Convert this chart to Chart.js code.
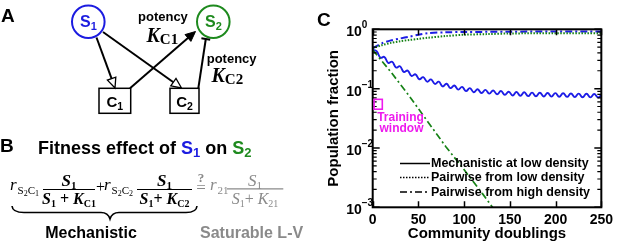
<!DOCTYPE html>
<html><head><meta charset="utf-8">
<script src="https://cdn.jsdelivr.net/npm/chart.js@4.4.1/dist/chart.umd.min.js"></script>
<style>
html,body{margin:0;padding:0;background:#fff;}
#wrap{position:relative;width:617px;height:242px;overflow:hidden;background:#fff;}
#c{position:absolute;left:0;top:0;}
#diag{position:absolute;left:0;top:0;}
</style></head><body>
<div id="wrap">
<canvas id="c" width="617" height="242"></canvas>
<svg id="diag" width="310" height="242" xmlns="http://www.w3.org/2000/svg" font-family="Liberation Sans, Arial, sans-serif">
  <!-- Panel A -->
  <text x="1" y="22" font-size="19" font-weight="bold">A</text>
  <circle cx="88.3" cy="21.7" r="16.3" fill="none" stroke="#1c1ce0" stroke-width="2"/>
  <text x="88.5" y="27" text-anchor="middle" fill="#1c1ce0" font-weight="bold" font-size="16">S<tspan font-size="11" dy="3">1</tspan></text>
  <circle cx="213.3" cy="21.7" r="16.3" fill="none" stroke="#1e8a1e" stroke-width="2"/>
  <text x="213.5" y="27" text-anchor="middle" fill="#1e8a1e" font-weight="bold" font-size="16">S<tspan font-size="11" dy="3">2</tspan></text>
  <rect x="99" y="88.3" width="31.7" height="25" fill="none" stroke="#000" stroke-width="1.5"/>
  <text x="114.8" y="106.5" text-anchor="middle" font-weight="bold" font-size="15">C<tspan font-size="10.5" dy="3">1</tspan></text>
  <rect x="170" y="88.3" width="29" height="25" fill="none" stroke="#000" stroke-width="1.5"/>
  <text x="184.5" y="106.5" text-anchor="middle" font-weight="bold" font-size="15">C<tspan font-size="10.5" dy="3">2</tspan></text>
  <g stroke="#000" stroke-width="2" fill="none">
    <line x1="96.5" y1="37.5" x2="111.6" y2="78.6"/>
    <line x1="103" y1="32" x2="173.4" y2="82.2"/>
    <line x1="130" y1="88.3" x2="188.5" y2="37.5"/>
    <line x1="198.3" y1="88.3" x2="205.8" y2="39"/>
    <line x1="201.4" y1="38.3" x2="210.2" y2="39.7"/>
  </g>
  <polygon points="115,88 107.4,80.1 115.8,77.1" fill="#fff" stroke="#000" stroke-width="1.3"/>
  <polygon points="181.5,88 170.8,85.9 176,78.5" fill="#fff" stroke="#000" stroke-width="1.3"/>
  <polygon points="195.5,31.5 190.9,41.4 185,34.6" fill="#000" stroke="#000" stroke-width="1"/>
  <text x="138" y="20.5" font-weight="bold" font-size="13">potency</text>
  <text x="146.5" y="42" font-family="Liberation Serif, Times New Roman, serif" font-weight="bold" font-style="italic" font-size="20">K<tspan font-style="normal" font-size="15" dy="2">C1</tspan></text>
  <text x="206.7" y="62.5" font-weight="bold" font-size="13">potency</text>
  <text x="211.5" y="82" font-family="Liberation Serif, Times New Roman, serif" font-weight="bold" font-style="italic" font-size="20">K<tspan font-style="normal" font-size="15" dy="2">C2</tspan></text>

  <!-- Panel B -->
  <text x="0" y="152" font-size="19" font-weight="bold">B</text>
  <text x="38" y="154" font-size="18" font-weight="bold">Fitness effect of <tspan fill="#1c1ce0">S</tspan><tspan fill="#1c1ce0" font-size="13" dy="3">1</tspan><tspan dy="-3"> on </tspan><tspan fill="#1e8a1e">S</tspan><tspan fill="#1e8a1e" font-size="13" dy="3">2</tspan></text>

  <g font-family="Liberation Serif, Times New Roman, serif">
    <!-- term 1 -->
    <text x="10" y="190" font-style="italic" font-size="17">r</text>
    <text x="17.5" y="194" font-size="11">S<tspan font-size="8" dy="2">2</tspan><tspan dy="-2">C</tspan><tspan font-size="8" dy="2">1</tspan></text>
    <text x="69" y="186" text-anchor="middle" font-weight="bold" font-style="italic" font-size="17">S<tspan font-style="normal" font-size="11" dy="3">1</tspan></text>
    <line x1="43" y1="189.5" x2="95" y2="189.5" stroke="#000" stroke-width="1.2"/>
    <text x="69" y="204" text-anchor="middle" font-weight="bold" font-style="italic" font-size="16">S<tspan font-style="normal" font-size="10" dy="3">1</tspan><tspan font-style="normal" dy="-3"> + </tspan>K<tspan font-style="normal" font-size="10" dy="3">C1</tspan></text>
    <text x="96" y="192" font-size="16">+</text>
    <!-- term 2 -->
    <text x="104" y="190" font-style="italic" font-size="17">r</text>
    <text x="111.5" y="194" font-size="11">S<tspan font-size="8" dy="2">2</tspan><tspan dy="-2">C</tspan><tspan font-size="8" dy="2">2</tspan></text>
    <text x="164.5" y="186" text-anchor="middle" font-weight="bold" font-style="italic" font-size="17">S<tspan font-style="normal" font-size="11" dy="3">1</tspan></text>
    <line x1="137" y1="189.5" x2="192" y2="189.5" stroke="#000" stroke-width="1.2"/>
    <text x="164.5" y="204" text-anchor="middle" font-weight="bold" font-style="italic" font-size="16">S<tspan font-style="normal" font-size="10" dy="3">1</tspan><tspan font-style="normal" dy="-3">+ </tspan>K<tspan font-style="normal" font-size="10" dy="3">C2</tspan></text>
    <!-- =? -->
    <g fill="#8a8a8a">
      <text x="201" y="181.5" text-anchor="middle" font-weight="bold" font-size="13">?</text>
      <text x="201" y="193" text-anchor="middle" font-size="17">=</text>
      <text x="210" y="190" font-style="italic" font-size="17">r</text>
      <text x="217.5" y="194" font-size="11">21</text>
      <text x="255" y="185.5" text-anchor="middle" font-style="italic" font-size="17">S<tspan font-style="normal" font-size="11" dy="3">1</tspan></text>
      <text x="255" y="204" text-anchor="middle" font-style="italic" font-size="16">S<tspan font-style="normal" font-size="10" dy="3">1</tspan><tspan font-style="normal" dy="-3">+ </tspan>K<tspan font-style="normal" font-size="10" dy="3">21</tspan></text>
    </g>
    <line x1="227" y1="188.8" x2="283.3" y2="188.8" stroke="#8a8a8a" stroke-width="1.2"/>
  </g>
  <path d="M12,206 Q12.5,212.5 24,212.5 L101,212.5 Q108,212.5 110,219 Q112,212.5 119,212.5 L186,212.5 Q196.5,212.5 197,206" fill="none" stroke="#000" stroke-width="1.6"/>
  <text x="91" y="238" text-anchor="middle" font-size="16" font-weight="bold">Mechanistic</text>
  <text x="200" y="238" font-size="16" font-weight="bold" fill="#8a8a8a">Saturable L-V</text>
</svg>
</div>
<script>
// ---------------- DATA ----------------
// Mechanistic model at low density: S1 population fraction (blue, solid, oscillating)
const mechDoublings = [0,4.25,8.5,12.75,17,21.25,25.5,29.75,34,38.25,42.5,46.75,51,55.25,59.5,63.75,68,72.25,76.5,80.75,85,89.25,93.5,97.75,102,106.25,110.5,114.75,119,123.25,127.5,131.75,136,140.25,144.5,148.75,153,157.25,161.5,165.75,170,174.25,178.5,182.75,187,191.25,195.5,199.75,204,208.25,212.5,216.75,221,225.25,229.5,233.75,238,242.25,246.5,250];
const mechS1 = [0.45,0.428,0.332,0.342,0.271,0.284,0.227,0.238,0.192,0.201,0.164,0.174,0.144,0.156,0.131,0.143,0.120,0.131,0.109,0.121,0.102,0.113,0.0963,0.107,0.0907,0.102,0.0870,0.0974,0.0842,0.0952,0.0823,0.0931,0.0804,0.0910,0.0785,0.0888,0.0767,0.0877,0.0757,0.0867,0.0748,0.0856,0.0743,0.0851,0.0739,0.0845,0.0734,0.0840,0.0729,0.0835,0.0725,0.0829,0.0720,0.0824,0.0715,0.0819,0.0711,0.0813,0.0711,0.078];
// Pairwise from low density: S2 fraction (green, dotted)
const pairLowDoublings = [0,10,20,30,40,50,60,80,100,125,150,200,250];
const pairLowS2 = [0.48,0.54,0.59,0.63,0.66,0.69,0.72,0.77,0.81,0.83,0.85,0.86,0.86];
// Pairwise from high density: S1 (blue, dash-dot) and S2 (green, dash-dot)
const pairHighDoublingsS1 = [0,10,20,30,40,50,60,80,100,150,200,250];
const pairHighS1 = [0.48,0.58,0.65,0.70,0.75,0.81,0.86,0.89,0.90,0.91,0.92,0.92];
const pairHighDoublingsS2 = [0,20,40,60,80,100,120,140];
const pairHighS2 = [0.45,0.19,0.075,0.028,0.0105,0.0043,0.0017,0.00065];
// Axis ticks
const xTickValues = [0,50,100,150,200,250];
const yDecadeValues = [0.001,0.01,0.1,1];
const yDecadeExponents = ['\u22123','\u22122','\u22121','0'];
const minorMultipliers = [2,3,4,5,6,7,8,9];
// Legend entries
const legendLabels = ['Mechanistic at low density','Pairwise from low density','Pairwise from high density'];
const legendDashes = [[], [1.5,1.5], [7,3,2,3]];
// Training window (data coordinates)
const trainingX = [1.5, 10.5];
const trainingY = [0.045, 0.066];

// -------------- COLOURS / STYLES --------------
const BLUE = '#1c1ce6';
const GREEN = '#168216';
const MAGENTA = '#ee1aee';
const SANS = '"Liberation Sans", Arial, sans-serif';

const pts = (xs, ys) => xs.map((v, i) => ({x: v, y: ys[i]}));

const panelPlugin = {
  id: 'panelC',
  afterDraw(chart) {
    const {ctx, chartArea: a, scales} = chart;
    const xs = scales.x, ys = scales.y;
    ctx.save();
    // frame
    ctx.strokeStyle = '#000';
    ctx.lineWidth = 2;
    ctx.strokeRect(a.left, a.top, a.right - a.left, a.bottom - a.top);
    // x ticks inward (bottom & top)
    ctx.lineWidth = 1.5;
    xTickValues.forEach(v => {
      const px = Math.round(xs.getPixelForValue(v)) + 0.5;
      ctx.beginPath();
      ctx.moveTo(px, a.bottom); ctx.lineTo(px, a.bottom - 6);
      ctx.moveTo(px, a.top); ctx.lineTo(px, a.top + 6);
      ctx.stroke();
    });
    // y ticks (major + minor) on both sides
    yDecadeValues.forEach((v, i) => {
      const py = ys.getPixelForValue(v);
      ctx.lineWidth = 1.5;
      ctx.beginPath();
      ctx.moveTo(a.left, py); ctx.lineTo(a.left + 7, py);
      ctx.moveTo(a.right, py); ctx.lineTo(a.right - 7, py);
      ctx.stroke();
      if (i < yDecadeValues.length - 1) {
        ctx.lineWidth = 1.2;
        minorMultipliers.forEach(m => {
          const pm = ys.getPixelForValue(v * m);
          ctx.beginPath();
          ctx.moveTo(a.left, pm); ctx.lineTo(a.left + 4, pm);
          ctx.moveTo(a.right, pm); ctx.lineTo(a.right - 4, pm);
          ctx.stroke();
        });
      }
    });
    // y tick labels 10^n
    ctx.fillStyle = '#000';
    yDecadeValues.forEach((v, i) => {
      const py = ys.getPixelForValue(v);
      ctx.font = 'bold 14px ' + SANS;
      ctx.textAlign = 'right';
      ctx.textBaseline = 'alphabetic';
      ctx.fillText('10', a.left - 11, py + 7);
      ctx.font = 'bold 10px ' + SANS;
      ctx.textAlign = 'left';
      ctx.fillText(yDecadeExponents[i], a.left - 11, py - 1);
    });
    // axis titles
    ctx.font = 'bold 15px ' + SANS;
    ctx.textAlign = 'center';
    ctx.fillText('Community doublings', (a.left + a.right) / 2, 237.5);
    ctx.save();
    ctx.translate(338, (a.top + a.bottom) / 2);
    ctx.rotate(-Math.PI / 2);
    ctx.fillText('Population fraction', 0, 0);
    ctx.restore();
    // panel letter
    ctx.font = 'bold 19px ' + SANS;
    ctx.textAlign = 'left';
    ctx.fillText('C', 317, 26);
    // training window
    const tx0 = xs.getPixelForValue(trainingX[0]), tx1 = xs.getPixelForValue(trainingX[1]);
    const ty0 = ys.getPixelForValue(trainingY[0]), ty1 = ys.getPixelForValue(trainingY[1]);
    ctx.strokeStyle = MAGENTA;
    ctx.lineWidth = 1.6;
    ctx.strokeRect(tx0, ty1, tx1 - tx0, ty0 - ty1);
    ctx.fillStyle = MAGENTA;
    ctx.font = 'bold 12px ' + SANS;
    ctx.textAlign = 'center';
    ctx.fillText('Training', 400.5, 120.5);
    ctx.fillText('window', 401.5, 131.5);
    // legend
    ctx.fillStyle = '#000';
    ctx.strokeStyle = '#000';
    ctx.font = 'bold 12.5px ' + SANS;
    ctx.textAlign = 'left';
    ctx.textBaseline = 'middle';
    const rows = [163.5, 177.5, 192];
    legendLabels.forEach((lab, i) => {
      ctx.lineWidth = 1.5;
      ctx.setLineDash(legendDashes[i]);
      ctx.beginPath();
      ctx.moveTo(400, rows[i]); ctx.lineTo(430, rows[i]);
      ctx.stroke();
      ctx.setLineDash([]);
      ctx.fillText(lab, 431, rows[i] + 0.5);
    });
    ctx.restore();
  }
};

new Chart(document.getElementById('c'), {
  type: 'line',
  data: {
    datasets: [
      {data: pts(pairHighDoublingsS2, pairHighS2), borderColor: GREEN, borderWidth: 1.7, borderDash: [7,3,2,3], tension: 0},
      {data: pts(pairLowDoublings, pairLowS2), borderColor: GREEN, borderWidth: 2, borderDash: [1.5,1.5], tension: 0.3},
      {data: pts(pairHighDoublingsS1, pairHighS1), borderColor: BLUE, borderWidth: 2, borderDash: [7,3,2,3], tension: 0.3},
      {data: pts(mechDoublings, mechS1), borderColor: BLUE, borderWidth: 1.9, tension: 0.45}
    ]
  },
  options: {
    responsive: false,
    animation: false,
    devicePixelRatio: 1,
    events: [],
    elements: {point: {radius: 0}},
    layout: {padding: {left: 300, right: 12.7, top: 29.3, bottom: 0}},
    plugins: {legend: {display: false}, tooltip: {enabled: false}},
    scales: {
      x: {
        type: 'linear', min: 0, max: 250,
        afterFit: s => { s.height = 34.7; },
        afterBuildTicks: s => { s.ticks = xTickValues.map(v => ({value: v})); },
        grid: {display: false, drawTicks: false},
        border: {display: false},
        ticks: {color: '#000', padding: 4, maxRotation: 0, autoSkip: false,
                font: {family: SANS, size: 14, weight: 'bold'}}
      },
      y: {
        type: 'logarithmic', min: 0.001, max: 1,
        afterFit: s => { s.width = 72.7; },
        grid: {display: false, drawTicks: false},
        border: {display: false},
        ticks: {display: false}
      }
    }
  },
  plugins: [panelPlugin]
});
</script>
</body></html>
